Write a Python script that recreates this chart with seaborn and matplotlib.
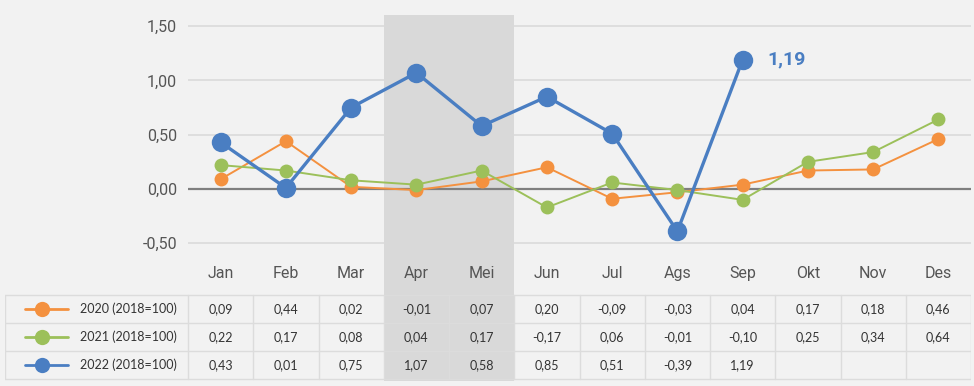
import numpy as np
import pandas as pd
import matplotlib
matplotlib.use("Agg")
import matplotlib.pyplot as plt
import seaborn as sns

# Data (month-to-month inflation, 2018=100)
months = ["Jan", "Feb", "Mar", "Apr", "Mei", "Jun", "Jul", "Ags", "Sep", "Okt", "Nov", "Des"]
s2020 = [0.09, 0.44, 0.02, -0.01, 0.07, 0.20, -0.09, -0.03, 0.04, 0.17, 0.18, 0.46]
s2021 = [0.22, 0.17, 0.08, 0.04, 0.17, -0.17, 0.06, -0.01, -0.10, 0.25, 0.34, 0.64]
s2022 = [0.43, 0.01, 0.75, 1.07, 0.58, 0.85, 0.51, -0.39, 1.19, np.nan, np.nan, np.nan]
series_names = ["2020 (2018=100)", "2021 (2018=100)", "2022 (2018=100)"]
yticks = [-0.5, 0.0, 0.5, 1.0, 1.5]
highlight = ["Apr", "Mei"]

colors = ["#f4913f", "#9cc05a", "#4a7ec2"]
bg = "#f2f2f2"
band = "#d9d9d9"

def fmt(v):
    return "" if np.isnan(v) else f"{v:.2f}".replace(".", ",")

sns.set_style("white")
plt.rcParams["font.family"] = ["Roboto", "DejaVu Sans"]

W, H = 974, 386
fig = plt.figure(figsize=(W / 100, H / 100), dpi=100, facecolor=bg)

# main chart area
ax = fig.add_axes([188 / W, 1 - 290 / H, (971 - 188) / W, (290 - 15) / H])
ax.set_facecolor("none")
x = np.arange(len(months))
df = pd.DataFrame({"x": x, "2020": s2020, "2021": s2021, "2022": s2022})

h0 = months.index(highlight[0])
h1 = months.index(highlight[-1])
ax.axvspan(h0 - 0.5, h1 + 0.5, color=band, lw=0, zorder=0)

for yt in yticks:
    if yt == 0:
        ax.axhline(0, color="#7f7f7f", lw=1.6, zorder=1)
    else:
        ax.axhline(yt, color="#d9d9d9", lw=1.1, zorder=1)

sns.lineplot(data=df, x="x", y="2020", ax=ax, color=colors[0], lw=1.4,
             marker="o", markersize=10, markeredgewidth=0, zorder=3)
sns.lineplot(data=df, x="x", y="2021", ax=ax, color=colors[1], lw=1.4,
             marker="o", markersize=10, markeredgewidth=0, zorder=3)
sns.lineplot(data=df, x="x", y="2022", ax=ax, color=colors[2], lw=2.4,
             marker="o", markersize=14, markeredgewidth=0, zorder=4)

last = int(np.where(~np.isnan(s2022))[0][-1])
ax.annotate(fmt(s2022[last]), (last, s2022[last]), xytext=(18, 0),
            textcoords="offset points", va="center", ha="left",
            fontsize=14, fontweight="bold", color=colors[2])

ax.set_xlim(-0.5, len(months) - 0.5)
ax.set_ylim(-0.93, 1.602)
ax.set_yticks(yticks)
ax.set_yticklabels([fmt(v) for v in yticks], fontsize=11.5, color="#555555")
ax.set_xticks(x)
ax.set_xticklabels(months, fontsize=11.5, color="#555555")
ax.tick_params(axis="x", length=0, pad=-17)
ax.tick_params(axis="y", length=0, pad=8)
ax.set_xlabel("")
ax.set_ylabel("")
sns.despine(ax=ax, left=True, bottom=True)

# data table below
tx = fig.add_axes([5 / W, 1 - 381 / H, (971 - 5) / W, 91 / H])
tx.set_facecolor("none")
left = -0.5 - (188 - 5) / 65.25
tx.set_xlim(left, len(months) - 0.5)
tx.set_ylim(3.07, -0.18)
tx.axis("off")
tx.axvspan(h0 - 0.5, h1 + 0.5, color=band, lw=0, zorder=0)

line_c = "#dcdcdc"
for r in range(4):
    tx.plot([left, len(months) - 0.5], [r, r], color=line_c, lw=1, zorder=1)
for c in [left] + [i - 0.5 for i in range(len(months) + 1)]:
    tx.plot([c, c], [0, 3], color=line_c, lw=1, zorder=1)

px = 65.25
for r, (name, vals, col) in enumerate(zip(series_names, [s2020, s2021, s2022], colors)):
    yc = r + 0.5
    tx.plot([left + 20 / px, left + 63 / px], [yc, yc], color=col, lw=2, zorder=2)
    tx.plot([left + 37 / px], [yc], "o", color=col, markersize=11, markeredgewidth=0, zorder=3)
    tx.text(left + 75 / px, yc, name, va="center", ha="left", fontsize=9,
            family=["Lato", "DejaVu Sans"], color="#333333")
    for i, v in enumerate(vals):
        tx.text(i, yc, fmt(v), va="center", ha="center", fontsize=9,
                family=["Lato", "DejaVu Sans"], color="#333333")

fig.savefig("out.png", dpi=100, facecolor=bg)
